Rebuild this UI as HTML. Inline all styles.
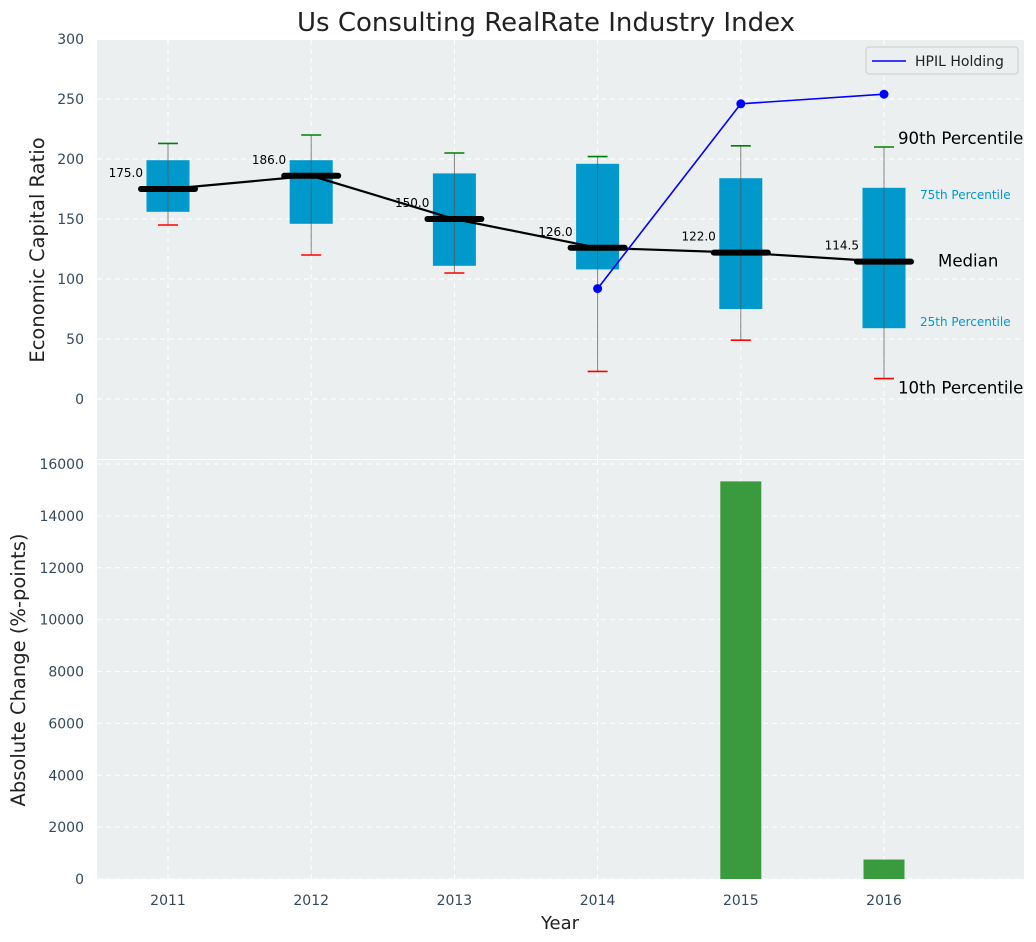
<!DOCTYPE html>
<html><head><meta charset="utf-8"><style>
body{margin:0;background:#fff;}
svg{font-family:"DejaVu Sans","Liberation Sans",sans-serif;display:block}
</style></head><body>
<svg id="c" width="1036" height="942" viewBox="0 0 1036 942"></svg>
<script>
const years=[2011,2012,2013,2014,2015,2016];
const p10=[145,120,105,23,49,17];
const q1=[156,146,111,108,75,59];
const med=[175,186,150,126,122,114.5];
const q3=[199,199,188,196,184,176];
const p90=[213,220,205,202,211,210];
const hpilYears=[2014,2015,2016];
const hpilVals=[92,246,254];
const barVals=[0,0,0,0,15330,750];
const topTicks=[0,50,100,150,200,250,300];
const botTicks=[0,2000,4000,6000,8000,10000,12000,14000,16000];

const NS="http://www.w3.org/2000/svg";
const svg=document.getElementById('c');
function el(t,a,txt){const e=document.createElementNS(NS,t);for(const k in a)e.setAttribute(k,a[k]);if(txt!==undefined)e.textContent=txt;svg.appendChild(e);return e;}
const L=97,R=1024;
const x=v=>168+(v-2011)*143.2;
const yT=v=>399-v*1.2;
const yB=v=>879-v*(415/16000);

let e;
e=el('rect',{x:L,y:40,width:R-L,height:419,fill:'#ebeff0'});

e=el('rect',{x:L,y:460,width:R-L,height:419,fill:'#ebeff0'});


topTicks.forEach(t=>{
  e=el('line',{x1:L,x2:R,y1:yT(t),y2:yT(t),stroke:'#fff','stroke-dasharray':'5,4','stroke-width':1});
  
  e=el('text',{x:84,y:yT(t)+5,'text-anchor':'end','font-size':14,fill:'#34495e'},t);
  
});
botTicks.forEach(t=>{
  e=el('line',{x1:L,x2:R,y1:yB(t),y2:yB(t),stroke:'#fff','stroke-dasharray':'5,4','stroke-width':1});
  
  e=el('text',{x:84,y:yB(t)+5,'text-anchor':'end','font-size':14,fill:'#34495e'},t);
  
});
years.forEach(yr=>{
  e=el('line',{x1:x(yr),x2:x(yr),y1:40,y2:459,stroke:'#fff','stroke-dasharray':'5,4'});
  
  e=el('line',{x1:x(yr),x2:x(yr),y1:460,y2:879,stroke:'#fff','stroke-dasharray':'5,4'});
  
  e=el('text',{x:x(yr),y:905,'text-anchor':'middle','font-size':14,fill:'#34495e'},yr);
  
});

years.forEach((yr,i)=>{
  const cx=x(yr);
  e=el('rect',{x:cx-21.5,y:yT(q3[i]),width:43,height:yT(q1[i])-yT(q3[i]),fill:'#0099cc'});
  
  e=el('line',{x1:cx,x2:cx,y1:yT(p90[i]),y2:yT(p10[i]),stroke:'#555','stroke-width':1,opacity:0.7});
  
  e=el('line',{x1:cx-10,x2:cx+10,y1:yT(p90[i]),y2:yT(p90[i]),stroke:'green','stroke-width':1.6});
  
  e=el('line',{x1:cx-10,x2:cx+10,y1:yT(p10[i]),y2:yT(p10[i]),stroke:'red','stroke-width':1.6});
  
});
e=el('polyline',{points:years.map((yr,i)=>x(yr)+','+yT(med[i])).join(' '),fill:'none',stroke:'#000','stroke-width':2.2});

years.forEach((yr,i)=>{
  const cx=x(yr);
  e=el('line',{x1:cx-27,x2:cx+27,y1:yT(med[i]),y2:yT(med[i]),stroke:'#000','stroke-width':6,'stroke-linecap':'round'});
  
  e=el('text',{x:cx-25,y:yT(med[i])-12,'text-anchor':'end','font-size':12,fill:'#000'},med[i].toFixed(1));
  
});
e=el('polyline',{points:hpilYears.map((yr,i)=>x(yr)+','+yT(hpilVals[i])).join(' '),fill:'none',stroke:'blue','stroke-width':1.6});

hpilYears.forEach((yr,i)=>{
  e=el('circle',{cx:x(yr),cy:yT(hpilVals[i]),r:4.5,fill:'blue'});
  
});
const a=x(2016);
[['90th Percentile',a+14,yT(p90[5])-3,16.6,'#000'],['75th Percentile',a+36,yT(q3[5])+11,12,'#0099cc'],['Median',a+54,yT(med[5])+5,16.6,'#000'],['25th Percentile',a+36,yT(q1[5])-2,12,'#0099cc'],['10th Percentile',a+14,yT(p10[5])+15,16.6,'#000']].forEach(t=>{
  e=el('text',{x:t[1],y:t[2],'font-size':t[3],fill:t[4]},t[0]);
  
});
e=el('rect',{x:866,y:47,width:152,height:27,rx:3,fill:'#ebeff0',stroke:'#ccc'});

e=el('line',{x1:872,x2:906,y1:61,y2:61,stroke:'blue','stroke-width':1.6});

e=el('text',{x:915,y:66,'font-size':14,fill:'#222'},'HPIL Holding');

years.forEach((yr,i)=>{
  if(!barVals[i])return;
  e=el('rect',{x:x(yr)-20.5,y:yB(barVals[i]),width:41,height:879-yB(barVals[i]),fill:'#3a9a3e'});
  
});
e=el('text',{x:546,y:31,'text-anchor':'middle','font-size':26,fill:'#222'},'Us Consulting RealRate Industry Index');

e=el('text',{x:0,y:0,'text-anchor':'middle','font-size':19.5,fill:'#222',transform:'translate(44,250) rotate(-90)'},'Economic Capital Ratio');

e=el('text',{x:0,y:0,'text-anchor':'middle','font-size':19.5,fill:'#222',transform:'translate(25,670) rotate(-90)'},'Absolute Change (%-points)');

e=el('text',{x:560,y:929,'text-anchor':'middle','font-size':18,fill:'#222'},'Year');

</script>
</body></html>
